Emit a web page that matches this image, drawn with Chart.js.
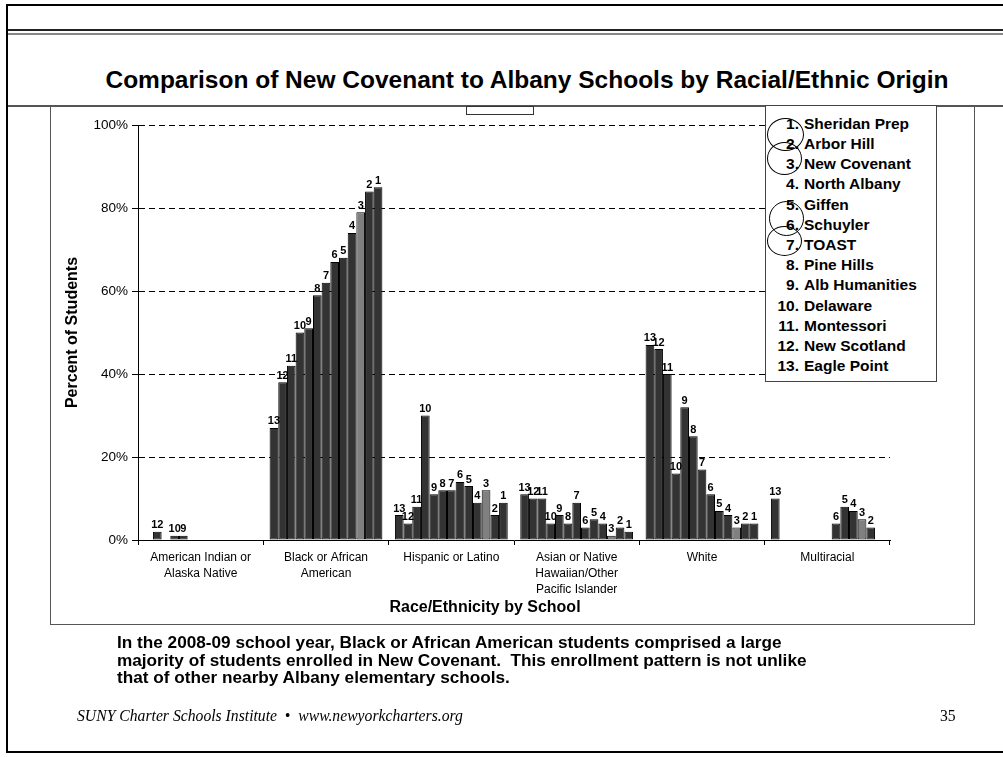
<!DOCTYPE html>
<html>
<head>
<meta charset="utf-8">
<script src="https://cdn.jsdelivr.net/npm/chart.js@4.4.1/dist/chart.umd.min.js"></script>
<style>
  html, body { margin: 0; padding: 0; background: #fff; }
  #page { position: relative; width: 1003px; height: 757px; overflow: hidden; font-family: "Liberation Sans", Arial, sans-serif; color: #000; }
  #page > div { position: absolute; }
  #chartWrap { left: 0; top: 0; width: 1003px; height: 757px; }
  .rule { background: #000; }
  #title { left: 527px; top: 66px; transform: translateX(-50%); white-space: nowrap; font-weight: bold; font-size: 24.5px; line-height: 28px; }
  #tab { left: 466px; top: 106px; width: 66px; height: 7px; border: 1px solid #333; background: #fff; }
  #chartBox { left: 50px; top: 106px; width: 923px; height: 518px; border: 1px solid #555; border-top: none; }
  #xTitle { left: 485px; top: 597px; transform: translateX(-50%); white-space: nowrap; font-weight: bold; font-size: 16px; line-height: 20px; }
  #legend { left: 765px; top: 105px; width: 170px; height: 275px; border: 1px solid #444; background: #fff; }
  #legend .row { position: absolute; left: 0; width: 170px; height: 20px; line-height: 20px; font-weight: bold; font-size: 15.5px; white-space: nowrap; }
  #legend .num { position: absolute; right: 137px; text-align: right; }
  #legend .name { position: absolute; left: 38px; }
  .ring { position: absolute; border: 1.5px solid #000; border-radius: 50%; box-sizing: border-box; }
  #note { left: 117px; top: 634px; width: 880px; font-weight: bold; font-size: 17.2px; line-height: 17.5px; white-space: nowrap; }
  #footer { left: 77px; top: 706px; font-family: "Liberation Serif", "Times New Roman", serif; font-style: italic; font-size: 15.7px; line-height: 20px; white-space: nowrap; }
  #pageNo { left: 940px; top: 706px; font-family: "Liberation Serif", "Times New Roman", serif; font-size: 15.7px; line-height: 20px; }
</style>
</head>
<body>
<div id="page">
  <div class="rule" style="left:6px; top:4px; width:997px; height:2px;"></div>
  <div class="rule" style="left:6px; top:29px; width:997px; height:2px; background:#222;"></div>
  <div class="rule" style="left:6px; top:33px; width:997px; height:2px; background:#888;"></div>
  <div class="rule" style="left:6px; top:105px; width:997px; height:2px; background:#555;"></div>
  <div class="rule" style="left:6px; top:4px; width:2px; height:749px;"></div>
  <div class="rule" style="left:6px; top:751px; width:997px; height:2px;"></div>
  <div id="chartBox"></div>
  <div id="title">Comparison of New Covenant to Albany Schools by Racial/Ethnic Origin</div>
  <div id="chartWrap"><canvas id="chart"></canvas></div>
  <div id="tab"></div>
  <div id="xTitle">Race/Ethnicity by School</div>
  <div id="legend"></div>
  <div id="note">In the 2008-09 school year, Black or African American students comprised a large<br>majority of students enrolled in New Covenant.&nbsp; This enrollment pattern is not unlike<br>that of other nearby Albany elementary schools.</div>
  <div id="footer">SUNY Charter Schools Institute&nbsp; &#8226; &nbsp;www.newyorkcharters.org</div>
  <div id="pageNo">35</div>
</div>
<script>
// Schools, numbered 1..13 in this order
const schools = ['Sheridan Prep', 'Arbor Hill', 'New Covenant', 'North Albany', 'Giffen', 'Schuyler',
  'TOAST', 'Pine Hills', 'Alb Humanities', 'Delaware', 'Montessori', 'New Scotland', 'Eagle Point'];

// Race/ethnicity groups along the x axis
const categories = [
  ['American Indian or', 'Alaska Native'],
  ['Black or African', 'American'],
  'Hispanic or Latino',
  ['Asian or Native', 'Hawaiian/Other', 'Pacific Islander'],
  'White',
  'Multiracial'
];

// Percent of students per school (index 0 = school 1)
const americanIndian = [0, 0, 0, 0, 0, 0, 0, 0, 1, 1, 0, 2, 0];
const blackAfrican   = [85, 84, 79, 74, 68, 67, 62, 59, 51, 50, 42, 38, 27];
const hispanic       = [9, 6, 12, 9, 13, 14, 12, 12, 11, 30, 8, 4, 6];
const asianPacific   = [2, 3, 1, 4, 5, 3, 9, 4, 6, 4, 10, 10, 11];
const white          = [4, 4, 3, 6, 7, 11, 17, 25, 32, 16, 40, 46, 47];
const multiracial    = [0, 3, 5, 7, 8, 4, 0, 0, 0, 0, 0, 0, 10];

const yTicks = [0, 20, 40, 60, 80, 100];
const highlighted = 'New Covenant';

const FONT = '"Liberation Sans", Arial, sans-serif';

// Bars run from school 13 on the left to school 1 on the right
const datasets = [];
for (let i = schools.length - 1; i >= 0; i--) {
  datasets.push({
    label: (i + 1) + '. ' + schools[i],
    schoolNo: i + 1,
    data: [americanIndian[i], blackAfrican[i], hispanic[i], asianPacific[i], white[i], multiracial[i]],
    backgroundColor: schools[i] === highlighted ? '#808080' : '#333333',
    borderColor: '#000',
    borderWidth: 1,
    borderSkipped: false,
    categoryPercentage: 0.9,
    barPercentage: 1.0
  });
}

// School number printed above every non-zero bar
const barNumbers = {
  id: 'barNumbers',
  afterDatasetsDraw(chart) {
    const ctx = chart.ctx;
    ctx.save();
    ctx.font = 'bold 11px ' + FONT;
    ctx.fillStyle = '#000';
    ctx.textAlign = 'center';
    ctx.textBaseline = 'bottom';
    chart.data.datasets.forEach((ds, di) => {
      const meta = chart.getDatasetMeta(di);
      meta.data.forEach((bar, j) => {
        if (ds.data[j] > 0) ctx.fillText(String(ds.schoolNo), bar.x, bar.y - 1);
      });
    });
    ctx.restore();
  }
};

new Chart(document.getElementById('chart'), {
  type: 'bar',
  data: { labels: categories, datasets },
  plugins: [barNumbers],
  options: {
    responsive: true,
    maintainAspectRatio: false,
    animation: false,
    layout: { padding: { left: 60, right: 113, top: 125, bottom: 142 } },
    plugins: { legend: { display: false }, tooltip: { enabled: false } },
    scales: {
      x: {
        grid: { offset: true, drawOnChartArea: false, color: '#000', tickLength: 5 },
        border: { color: '#000', width: 1 },
        ticks: { color: '#000', font: { family: FONT, size: 12, lineHeight: 1.37 }, maxRotation: 0, autoSkip: false, padding: 4 },
        afterFit(scale) { scale.height = 75; }
      },
      y: {
        min: 0,
        max: 100,
        afterBuildTicks(scale) { scale.ticks = yTicks.map(v => ({ value: v })); },
        grid: {
          color: ctx => (ctx.tick && ctx.tick.value === 0) ? 'rgba(0,0,0,0)' : '#000',
          tickColor: '#000',
          tickLength: 6,
          tickBorderDash: []
        },
        border: { color: '#000', width: 1, dash: [6, 4] },
        ticks: { color: '#000', font: { family: FONT, size: 13.5 }, padding: 4, callback: v => v + '%' },
        title: { display: true, text: 'Percent of Students', color: '#000', font: { family: FONT, size: 16, weight: 'bold' }, padding: { top: 3, bottom: 0 } },
        afterFit(scale) { scale.width = 78; }
      }
    }
  }
});

// Legend listing the schools by number
const legend = document.getElementById('legend');
schools.forEach((name, i) => {
  const row = document.createElement('div');
  row.className = 'row';
  row.style.top = (7.7 + 20.2 * i) + 'px';
  row.innerHTML = '<span class="num">' + (i + 1) + '.</span><span class="name">' + name + '</span>';
  legend.appendChild(row);
});

// Pen rings drawn round the number pairs in the legend
const rings = [
  { cx: 785.5, cy: 134.5, rx: 18.5, ry: 16.5 },
  { cx: 784.5, cy: 158.5, rx: 17.5, ry: 16.5 },
  { cx: 786, cy: 218, rx: 17.5, ry: 17.5 },
  { cx: 784.5, cy: 240.5, rx: 17.5, ry: 15 }
];
const page = document.getElementById('page');
rings.forEach(r => {
  const d = document.createElement('div');
  d.className = 'ring';
  d.style.left = (r.cx - r.rx) + 'px';
  d.style.top = (r.cy - r.ry) + 'px';
  d.style.width = (2 * r.rx) + 'px';
  d.style.height = (2 * r.ry) + 'px';
  page.appendChild(d);
});
</script>
</body>
</html>
